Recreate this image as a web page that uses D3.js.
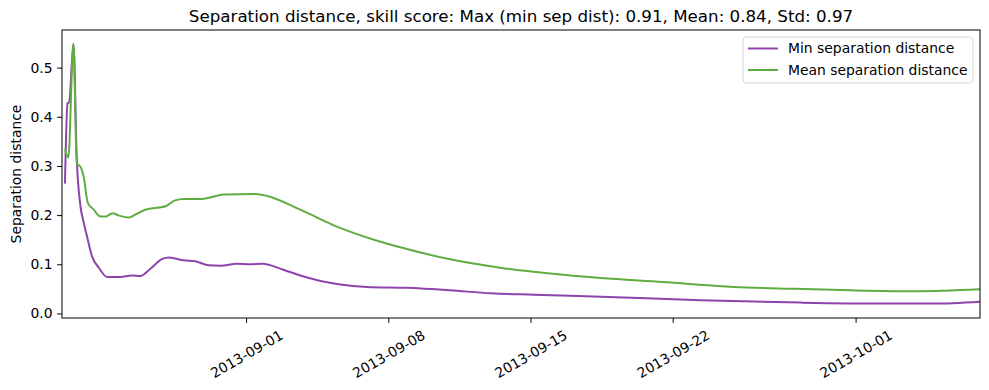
<!DOCTYPE html>
<html lang="en">
<head>
    <meta charset="UTF-8">
    <title>Separation distance</title>
    <script src="https://d3js.org/d3.v7.min.js"></script>
    <style>
        body {
            margin: 0;
            font-family: "DejaVu Sans", sans-serif;
            background: #fff;
        }
        .tick text {
            font-size: 13.9px;
            font-family: "DejaVu Sans", sans-serif;
            fill: #000;
        }
        .domain, .tick line {
            stroke: #000;
        }
    </style>
</head>
<body>
    <div id="chart"></div>
    <script>
        const minTimes = [
            "2013-08-23T02:00", "2013-08-23T05:00", "2013-08-23T07:00", "2013-08-23T12:00",
            "2013-08-23T16:00", "2013-08-23T20:00", "2013-08-24T00:00", "2013-08-24T04:00",
            "2013-08-24T10:00", "2013-08-24T18:00", "2013-08-25T04:00", "2013-08-25T19:00",
            "2013-08-26T09:00", "2013-08-26T19:00", "2013-08-27T07:00", "2013-08-27T21:00",
            "2013-08-28T05:00", "2013-08-28T22:00", "2013-08-29T12:00", "2013-08-30T04:00",
            "2013-08-30T18:00", "2013-08-31T13:00", "2013-09-01T05:00", "2013-09-01T19:00",
            "2013-09-02T20:00", "2013-09-03T16:00", "2013-09-04T16:00", "2013-09-05T15:00",
            "2013-09-06T23:00", "2013-09-08T22:00", "2013-09-11T01:00", "2013-09-13T01:00",
            "2013-09-15T04:00", "2013-09-18T11:00", "2013-09-23T09:00", "2013-09-28T07:00",
            "2013-10-02T09:00", "2013-10-04T20:00", "2013-10-07T03:00"
        ];
        const minValues = [
            0.264, 0.427, 0.430, 0.548,
            0.312, 0.222, 0.186, 0.157,
            0.116, 0.093, 0.074, 0.074,
            0.077, 0.076, 0.091, 0.111,
            0.114, 0.108, 0.106, 0.098,
            0.097, 0.101, 0.100, 0.101,
            0.089, 0.077, 0.066, 0.059,
            0.054, 0.052, 0.047, 0.041,
            0.038, 0.034, 0.027, 0.022,
            0.020, 0.020, 0.024
        ];

        const meanTimes = [
            "2013-08-23T02:00", "2013-08-23T06:00", "2013-08-23T12:00", "2013-08-23T16:00",
            "2013-08-23T21:00", "2013-08-24T00:00", "2013-08-24T05:00", "2013-08-24T12:00",
            "2013-08-24T20:00", "2013-08-25T02:00", "2013-08-25T10:00", "2013-08-25T18:00",
            "2013-08-26T05:00", "2013-08-26T13:00", "2013-08-27T01:00", "2013-08-27T19:00",
            "2013-08-28T01:00", "2013-08-28T12:00", "2013-08-28T22:00", "2013-08-29T20:00",
            "2013-08-30T10:00", "2013-08-30T22:00", "2013-09-01T11:00", "2013-09-02T01:00",
            "2013-09-03T16:00", "2013-09-05T15:00", "2013-09-07T07:00", "2013-09-08T22:00",
            "2013-09-11T01:00", "2013-09-13T12:00", "2013-09-15T23:00", "2013-09-18T11:00",
            "2013-09-21T12:00", "2013-09-25T00:00", "2013-09-28T00:00", "2013-09-30T18:00",
            "2013-10-04T00:00", "2013-10-07T03:00"
        ];
        const meanValues = [
            0.335, 0.317, 0.549, 0.306,
            0.296, 0.279, 0.225, 0.211,
            0.197, 0.197, 0.204, 0.199,
            0.195, 0.201, 0.211, 0.216,
            0.218, 0.230, 0.233, 0.233,
            0.238, 0.242, 0.243, 0.239,
            0.211, 0.174, 0.150, 0.131,
            0.110, 0.093, 0.081, 0.072,
            0.064, 0.054, 0.050, 0.047,
            0.045, 0.049
        ];

        const xTickDates = ["2013-09-01", "2013-09-08", "2013-09-15", "2013-09-22", "2013-10-01"];
        const yTicks = [0.0, 0.1, 0.2, 0.3, 0.4, 0.5];
        const seriesNames = ["Min separation distance", "Mean separation distance"];
        const colors = ["#8e44ad", "#5fad41"];
        const title = "Separation distance, skill score: Max (min sep dist): 0.91, Mean: 0.84, Std: 0.97";

        const W = 989, H = 390;
        const margin = { top: 30, right: 9, bottom: 72, left: 62 };
        const width = W - margin.left - margin.right;
        const height = H - margin.top - margin.bottom;

        const parse = d3.timeParse("%Y-%m-%dT%H:%M");
        const parseDay = d3.timeParse("%Y-%m-%d");

        const series = [
            minTimes.map((t, i) => ({ date: parse(t), value: minValues[i] })),
            meanTimes.map((t, i) => ({ date: parse(t), value: meanValues[i] }))
        ];

        const svg = d3.select("#chart")
            .append("svg")
            .attr("width", W)
            .attr("height", H);

        const g = svg.append("g")
            .attr("transform", `translate(${margin.left},${margin.top})`);

        const x = d3.scaleTime()
            .domain([parse("2013-08-22T22:30"), parse("2013-10-07T03:00")])
            .range([0, width]);

        const y = d3.scaleLinear()
            .domain([-0.0093, 0.5765])
            .range([height, 0]);

        const line = d3.line()
            .x(d => x(d.date))
            .y(d => y(d.value))
            .curve(d3.curveMonotoneX);

        g.append("clipPath")
            .attr("id", "clip")
            .append("rect")
            .attr("width", width)
            .attr("height", height);

        series.forEach((s, i) => {
            g.append("path")
                .datum(s)
                .attr("clip-path", "url(#clip)")
                .attr("fill", "none")
                .attr("stroke", colors[i])
                .attr("stroke-width", 2)
                .attr("stroke-linejoin", "round")
                .attr("d", line);
        });

        // axes
        const xAxis = g.append("g")
            .attr("transform", `translate(0,${height})`)
            .call(d3.axisBottom(x)
                .tickValues(xTickDates.map(parseDay))
                .tickFormat(d3.timeFormat("%Y-%m-%d"))
                .tickSizeOuter(0)
                .tickSize(4.9));
        xAxis.select(".domain").remove();
        xAxis.selectAll(".tick text")
            .attr("text-anchor", "middle")
            .attr("dy", null)
            .attr("y", 0)
            .attr("dominant-baseline", "central")
            .attr("transform", "translate(0,36) rotate(-30)");

        const yAxis = g.append("g")
            .call(d3.axisLeft(y)
                .tickValues(yTicks)
                .tickFormat(d3.format(".1f"))
                .tickSizeOuter(0)
                .tickSize(4.9)
                .tickPadding(4.5));
        yAxis.select(".domain").remove();

        // frame
        g.append("rect")
            .attr("width", width)
            .attr("height", height)
            .attr("fill", "none")
            .attr("stroke", "#000")
            .attr("stroke-width", 1);

        // title
        svg.append("text")
            .attr("x", margin.left + width / 2)
            .attr("y", 22)
            .attr("text-anchor", "middle")
            .style("font-size", "16.7px")
            .text(title);

        // y label
        svg.append("text")
            .attr("transform", `translate(21,${margin.top + height / 2}) rotate(-90)`)
            .attr("text-anchor", "middle")
            .style("font-size", "13.9px")
            .text("Separation distance");

        // legend
        const legend = svg.append("g")
            .attr("transform", "translate(743,37)");
        legend.append("rect")
            .attr("width", 230)
            .attr("height", 46)
            .attr("rx", 3)
            .attr("fill", "#fff")
            .attr("fill-opacity", 0.8)
            .attr("stroke", "#d6d6d6");
        seriesNames.forEach((name, i) => {
            const ly = 11.5 + i * 21.5;
            legend.append("line")
                .attr("x1", 5).attr("x2", 35)
                .attr("y1", ly).attr("y2", ly)
                .attr("stroke", colors[i])
                .attr("stroke-width", 2);
            legend.append("text")
                .attr("x", 45)
                .attr("y", ly)
                .attr("dy", "0.35em")
                .style("font-size", "13.9px")
                .text(name);
        });
    </script>
</body>
</html>
